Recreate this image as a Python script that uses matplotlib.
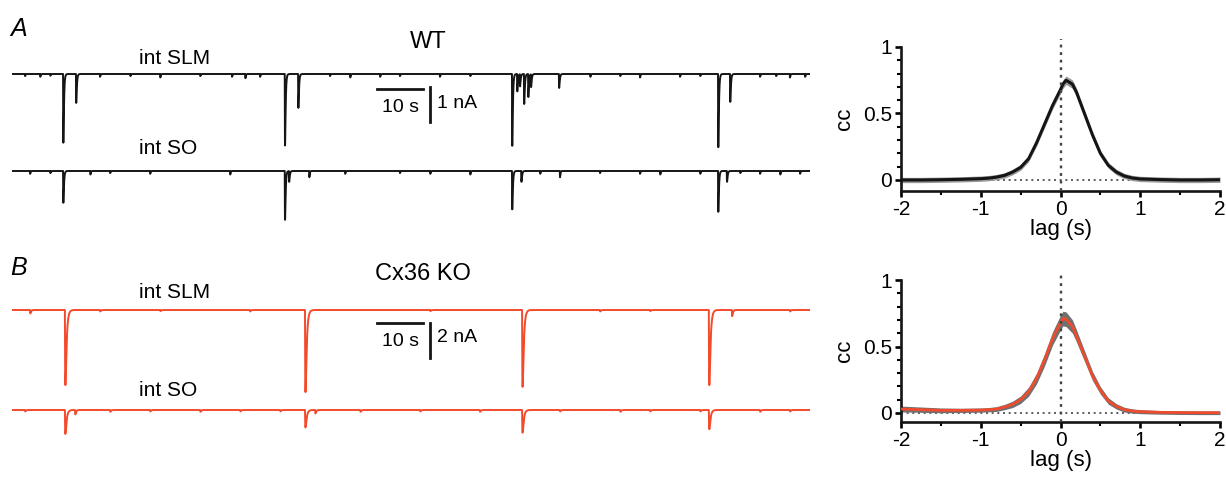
import numpy as np
import matplotlib
matplotlib.use("Agg")
import matplotlib.pyplot as plt
from matplotlib.ticker import MultipleLocator

plt.rcParams["font.family"] = ["Liberation Sans", "DejaVu Sans"]
plt.rcParams["axes.unicode_minus"] = False

# ---- trace data (time in s, amplitude in nA, downward events) ----
T_END = 173.5

wt_slm_times = [11.1, 13.9, 59.3, 62.2, 108.7, 109.8, 110.4, 111.3, 112.2, 112.8, 118.9, 153.5, 156.1]
wt_slm_amps = [1.97, 0.83, 2.05, 0.97, 2.06, 0.5, 0.35, 0.86, 0.66, 0.37, 0.4, 2.1, 0.8]
wt_slm_small_t = [2.8, 6.1, 8.3, 19.1, 25.7, 32.2, 40.9, 47.8, 50.7, 53.9, 69.1, 73.5, 80.0, 84.3,
                  93.0, 99.6, 125.7, 132.2, 136.5, 145.2, 149.6, 162.6, 166.1, 169.1, 172.4]
wt_slm_small_a = [0.06, 0.08, 0.05, 0.08, 0.06, 0.1, 0.06, 0.08, 0.12, 0.08, 0.06, 0.1, 0.08, 0.06,
                  0.08, 0.06, 0.08, 0.06, 0.1, 0.08, 0.06, 0.08, 0.06, 0.1, 0.08]

wt_so_times = [11.1, 59.3, 60.2, 108.7, 110.7, 153.5, 155.4]
wt_so_amps = [0.91, 1.4, 0.31, 1.1, 0.31, 1.17, 0.31]
wt_so_small_t = [3.9, 8.3, 17.0, 21.3, 30.0, 47.4, 64.6, 72.4, 84.3, 90.9, 99.6, 114.8, 119.1,
                 127.8, 136.5, 140.9, 149.6, 158.3, 162.6, 167.0, 171.3]
wt_so_small_a = [0.08, 0.06, 0.1, 0.06, 0.08, 0.1, 0.18, 0.08, 0.06, 0.08, 0.1, 0.08, 0.18,
                 0.06, 0.08, 0.1, 0.08, 0.06, 0.08, 0.1, 0.08]

ko_slm_times = [11.5, 63.7, 110.9, 151.5]
ko_slm_amps = [4.3, 4.7, 4.4, 4.3]
ko_slm_small_t = [3.9, 19.1, 32.2, 51.7, 90.9, 127.8, 138.7, 156.5, 169.1]
ko_slm_small_a = [0.2, 0.08, 0.06, 0.08, 0.06, 0.08, 0.06, 0.35, 0.08]

ko_so_times = [11.5, 63.7, 110.9, 151.5]
ko_so_amps = [1.37, 1.0, 1.3, 1.1]
ko_so_small_t = [2.8, 13.7, 21.3, 30.0, 40.9, 49.6, 58.3, 65.9, 75.7, 88.7, 101.7, 119.1, 132.2,
                 138.7, 149.6, 162.6, 169.1]
ko_so_small_a = [0.08, 0.25, 0.1, 0.08, 0.1, 0.08, 0.08, 0.2, 0.1, 0.08, 0.1, 0.08, 0.1,
                 0.08, 0.08, 0.1, 0.08]

# ---- cross-correlation data ----
lag = [-2.0, -1.75, -1.5, -1.25, -1.0, -0.9, -0.8, -0.7, -0.6, -0.5, -0.4, -0.3, -0.2, -0.1,
       0.0, 0.03, 0.07, 0.15, 0.2, 0.3, 0.4, 0.5, 0.6, 0.7, 0.8, 0.9, 1.0, 1.25, 1.5, 1.75, 2.0]
cc_wt = [0.0, 0.0, 0.002, 0.005, 0.01, 0.014, 0.022, 0.035, 0.06, 0.095, 0.16, 0.28, 0.42, 0.56,
         0.68, 0.72, 0.75, 0.72, 0.66, 0.5, 0.34, 0.2, 0.11, 0.06, 0.03, 0.015, 0.008, 0.003,
         0.0, 0.0, 0.002]
sem_wt = [0.02, 0.02, 0.02, 0.02, 0.02, 0.02, 0.02, 0.02, 0.021, 0.022, 0.023, 0.024,
          0.026, 0.028, 0.03, 0.032, 0.032, 0.032, 0.03, 0.028, 0.026, 0.024, 0.022, 0.021,
          0.02, 0.02, 0.02, 0.02, 0.02, 0.02, 0.02]
cc_ko = [0.03, 0.025, 0.02, 0.02, 0.022, 0.025, 0.03, 0.045, 0.065, 0.1, 0.16, 0.26, 0.4, 0.56,
         0.68, 0.71, 0.705, 0.65, 0.58, 0.43, 0.28, 0.17, 0.09, 0.05, 0.025, 0.015, 0.01, 0.005,
         0.003, 0.002, 0.002]
sem_ko = [0.022, 0.02, 0.018, 0.016, 0.016, 0.016, 0.018, 0.02, 0.024, 0.028, 0.034, 0.04,
          0.046, 0.05, 0.055, 0.055, 0.055, 0.05, 0.046, 0.04, 0.034, 0.028, 0.024, 0.02, 0.018,
          0.016, 0.015, 0.014, 0.014, 0.014, 0.014]

RED = "#f44a2c"
INK = "#151515"
W, H = 1226, 479


def fx(px):
    return px / W


def fy(py):
    return 1 - py / H


def build_trace(t, times, amps, tau_r, tau_d):
    y = np.zeros_like(t)
    s_grid = np.linspace(0, 10 * tau_d, 2000)
    kmax = np.max(np.exp(-s_grid / tau_d) - np.exp(-s_grid / tau_r))
    for t0, a in zip(times, amps):
        s = t - t0
        m = s >= 0
        y[m] -= a * (np.exp(-s[m] / tau_d) - np.exp(-s[m] / tau_r)) / kmax
    return y


t = np.arange(0, T_END, 0.02)

fig = plt.figure(figsize=(W / 100, H / 100), dpi=100)

# ---------- panel A traces ----------
ax_a = fig.add_axes([fx(12), fy(230), fx(798), 190 / H])
so_off_a = -(171 - 74) / 35
slm = build_trace(t, wt_slm_times, wt_slm_amps, 0.04, 0.12) + build_trace(t, wt_slm_small_t, wt_slm_small_a, 0.03, 0.08)
so = build_trace(t, wt_so_times, wt_so_amps, 0.04, 0.12) + build_trace(t, wt_so_small_t, wt_so_small_a, 0.03, 0.08)
ax_a.plot(t, slm, color=INK, lw=1.4)
ax_a.plot(t, so + so_off_a, color=INK, lw=1.4)
ax_a.plot([79.3, 89.3], [-0.43, -0.43], color=INK, lw=2)
ax_a.plot([90.9, 90.9], [-0.37, -1.37], color=INK, lw=2)
ax_a.set_xlim(0, T_END)
ax_a.set_ylim(-(230 - 74) / 35, (74 - 40) / 35)
ax_a.axis("off")

# ---------- panel B traces ----------
ax_b = fig.add_axes([fx(12), fy(470), fx(798), 210 / H])
so_off_b = -100 / 17.5
slm_b = (build_trace(t, ko_slm_times, ko_slm_amps, 0.06, 0.25)
         + build_trace(t, ko_slm_small_t, ko_slm_small_a, 0.05, 0.15))
so_b = (build_trace(t, ko_so_times, ko_so_amps, 0.06, 0.25)
        + build_trace(t, ko_so_small_t, ko_so_small_a, 0.05, 0.15))
ax_b.plot(t, slm_b, color=RED, lw=1.4)
ax_b.plot(t, so_b + so_off_b, color=RED, lw=1.4)
ax_b.plot([79.3, 89.3], [-0.74, -0.74], color=INK, lw=2)
ax_b.plot([90.9, 90.9], [-0.74, -2.74], color=INK, lw=2)
ax_b.set_xlim(0, T_END)
ax_b.set_ylim(-(470 - 310) / 17.5, (310 - 260) / 17.5)
ax_b.axis("off")

# ---------- text on trace panels ----------
fig.text(fx(10), fy(29), "A", fontsize=18, style="italic", va="center")
fig.text(fx(428), fy(42), "WT", fontsize=17, ha="center", va="center")
fig.text(fx(139), fy(58), "int SLM", fontsize=15, va="center")
fig.text(fx(139), fy(149), "int SO", fontsize=15, va="center")
fig.text(fx(400), fy(107), "10 s", fontsize=14, ha="center", va="center")
fig.text(fx(437), fy(104), "1 nA", fontsize=14, va="center")

fig.text(fx(10), fy(268), "B", fontsize=18, style="italic", va="center")
fig.text(fx(423), fy(274), "Cx36 KO", fontsize=17, ha="center", va="center")
fig.text(fx(139), fy(292), "int SLM", fontsize=15, va="center")
fig.text(fx(139), fy(390), "int SO", fontsize=15, va="center")
fig.text(fx(400), fy(341), "10 s", fontsize=14, ha="center", va="center")
fig.text(fx(437), fy(338), "2 nA", fontsize=14, va="center")


# ---------- cross-correlation panels ----------
def cc_axes(top_px, zero_px, spine_px):
    span = (spine_px - top_px)
    unit = zero_px - top_px
    ax = fig.add_axes([fx(901), fy(spine_px), fx(1220 - 901), span / H])
    ax.set_xlim(-2, 2)
    ax.set_ylim(-(spine_px - zero_px) / unit, 1.0)
    for side in ["top", "right"]:
        ax.spines[side].set_visible(False)
    for side in ["left", "bottom"]:
        ax.spines[side].set_linewidth(1.9)
        ax.spines[side].set_color(INK)
    ax.xaxis.set_major_locator(MultipleLocator(1))
    ax.xaxis.set_minor_locator(MultipleLocator(0.5))
    ax.yaxis.set_minor_locator(MultipleLocator(0.1))
    ax.tick_params(which="major", direction="out", length=4.5, width=1.9, labelsize=15, pad=2)
    ax.tick_params(which="minor", direction="out", length=3, width=1.5)
    ax.set_yticks([0, 0.5, 1])
    ax.set_yticklabels(["0", "0.5", "1"])
    ax.set_xlabel("lag (s)", fontsize=16, labelpad=0)
    ax.set_ylabel("cc", fontsize=16, labelpad=6)
    ax.axhline(0, color="#444444", lw=1.2, ls=(0, (1.2, 2.2)), zorder=1)
    ax.plot([0, 0], [ax.get_ylim()[0], 1.06], color="#444444", lw=1.7, ls=(0, (1.2, 2.0)),
            zorder=4, clip_on=False)
    return ax


ax_ca = cc_axes(47, 180, 191)
lo = np.array(cc_wt) - np.array(sem_wt)
hi = np.array(cc_wt) + np.array(sem_wt)
ax_ca.fill_between(lag, lo, hi, color="#9a9a9a", lw=0, zorder=2)
ax_ca.plot(lag, cc_wt, color=INK, lw=2.2, zorder=3)

ax_cb = cc_axes(280, 413, 422)
lo = np.array(cc_ko) - np.array(sem_ko)
hi = np.array(cc_ko) + np.array(sem_ko)
ax_cb.fill_between(lag, lo, hi, color="#707070", lw=0, zorder=2)
ax_cb.plot(lag, cc_ko, color=RED, lw=1.9, zorder=3)

fig.savefig("out.png", dpi=100)
